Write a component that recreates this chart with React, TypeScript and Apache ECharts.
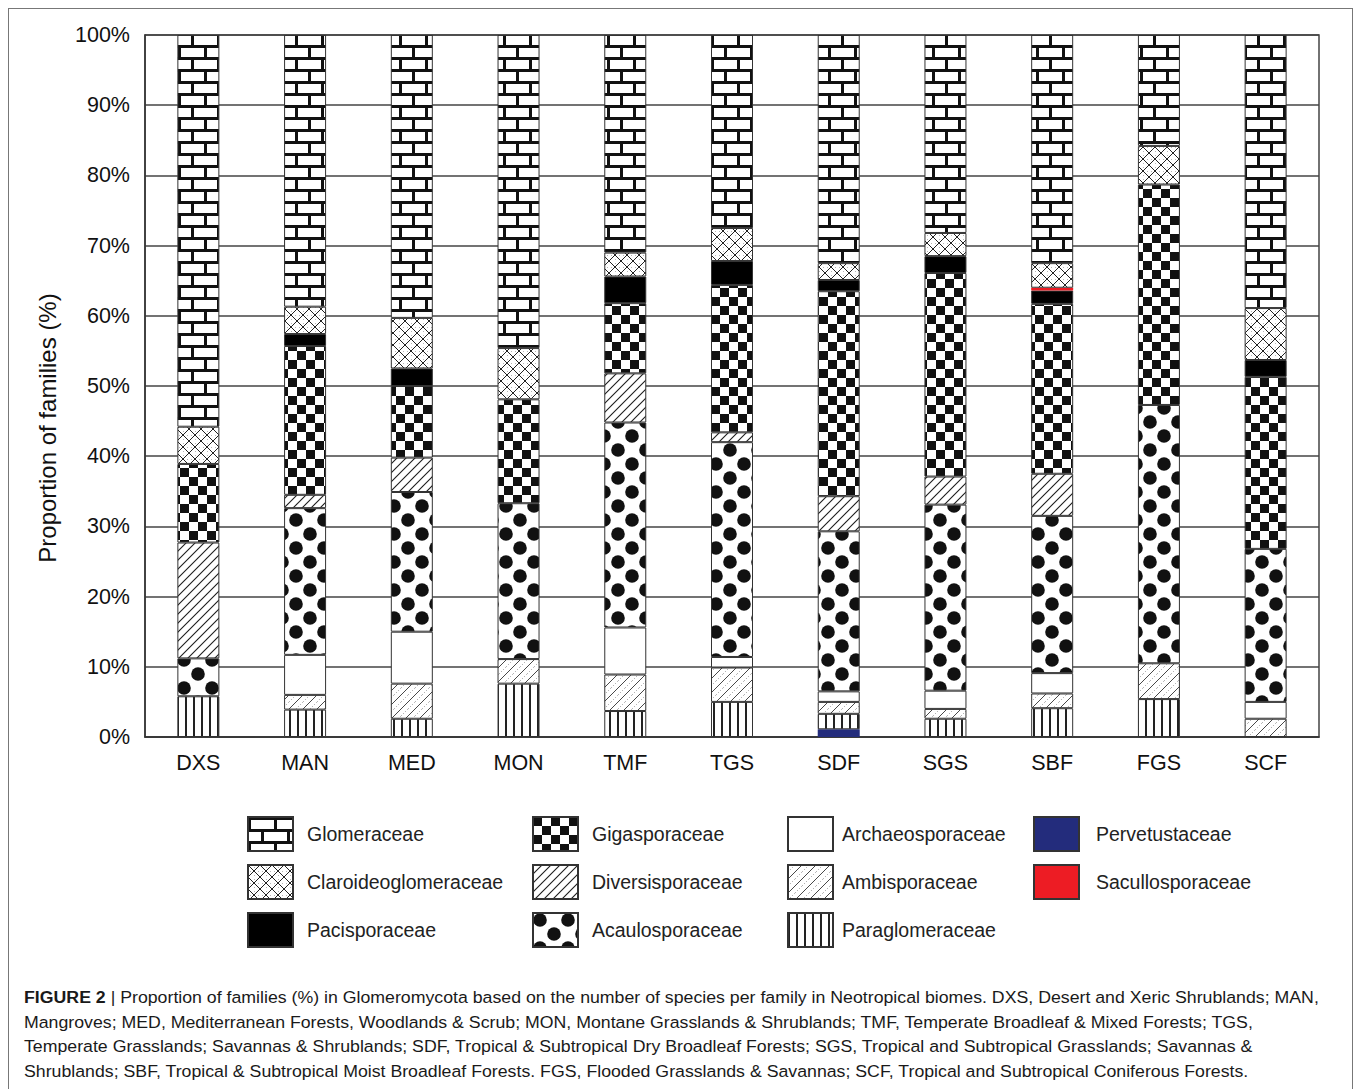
import React, { useEffect, useRef } from 'react';
import * as echarts from 'echarts';

const categories = ['DXS', 'MAN', 'MED', 'MON', 'TMF', 'TGS', 'SDF', 'SGS', 'SBF', 'FGS', 'SCF'];

const pervetustaceae = [0, 0, 0, 0, 0, 0, 1.1, 0, 0, 0, 0];
const paraglomeraceae = [5.8, 3.9, 2.6, 7.6, 3.7, 5.0, 2.2, 2.6, 4.1, 5.4, 0];
const ambisporaceae = [0, 2.1, 5.0, 3.5, 5.2, 4.9, 1.7, 1.4, 2.1, 5.1, 2.6];
const archaeosporaceae = [0, 5.7, 7.4, 0, 6.7, 1.5, 1.5, 2.6, 2.9, 0, 2.4];
const acaulosporaceae = [5.4, 20.9, 19.9, 22.2, 29.2, 30.6, 22.8, 26.5, 22.4, 36.8, 21.8];
const diversisporaceae = [16.5, 1.9, 4.9, 0, 7.0, 1.4, 5.0, 4.0, 6.0, 0, 0];
const gigasporaceae = [11.2, 21.2, 10.2, 14.8, 10.0, 21.0, 29.2, 29.0, 24.2, 31.4, 24.5];
const pacisporaceae = [0, 1.7, 2.5, 0, 3.8, 3.4, 1.6, 2.4, 1.9, 0, 2.4];
const sacullosporaceae = [0, 0, 0, 0, 0, 0, 0, 0, 0.4, 0, 0];
const claroideoglomeraceae = [5.3, 3.9, 7.2, 7.3, 3.4, 4.7, 2.4, 3.3, 3.5, 5.5, 7.4];
const glomeraceae = [55.8, 38.7, 40.3, 44.6, 31.0, 27.5, 32.5, 28.2, 32.5, 15.8, 38.9];

const yTicks = [0, 10, 20, 30, 40, 50, 60, 70, 80, 90, 100];

const legendCol1 = ['Glomeraceae', 'Claroideoglomeraceae', 'Pacisporaceae'];
const legendCol2 = ['Gigasporaceae', 'Diversisporaceae', 'Acaulosporaceae'];
const legendCol3 = ['Archaeosporaceae', 'Ambisporaceae', 'Paraglomeraceae'];
const legendCol4 = ['Pervetustaceae', 'Sacullosporaceae'];

const captionBold = 'FIGURE 2 ';
const captionLines = [
  '| Proportion of families (%) in Glomeromycota based on the number of species per family in Neotropical biomes. DXS, Desert and Xeric Shrublands; MAN,',
  'Mangroves; MED, Mediterranean Forests, Woodlands & Scrub; MON, Montane Grasslands & Shrublands; TMF, Temperate Broadleaf & Mixed Forests; TGS,',
  'Temperate Grasslands; Savannas & Shrublands; SDF, Tropical & Subtropical Dry Broadleaf Forests; SGS, Tropical and Subtropical Grasslands; Savannas &',
  'Shrublands; SBF, Tropical & Subtropical Moist Broadleaf Forests. FGS, Flooded Grasslands & Savannas; SCF, Tropical and Subtropical Coniferous Forests.',
];

const FONT = '"Liberation Sans", Arial, Helvetica, sans-serif';

type Ctx = CanvasRenderingContext2D;

function makeTile(w: number, h: number, draw: (ctx: Ctx) => void) {
  const c = document.createElement('canvas');
  c.width = w;
  c.height = h;
  const ctx = c.getContext('2d') as Ctx;
  ctx.fillStyle = '#ffffff';
  ctx.fillRect(0, 0, w, h);
  ctx.fillStyle = '#111111';
  ctx.strokeStyle = '#111111';
  draw(ctx);
  return { image: c.toDataURL(), repeat: 'repeat', imageWidth: w, imageHeight: h };
}

function line(ctx: Ctx, x1: number, y1: number, x2: number, y2: number) {
  ctx.beginPath();
  ctx.moveTo(x1, y1);
  ctx.lineTo(x2, y2);
  ctx.stroke();
}

function buildPatterns() {
  const brick = makeTile(26, 24, (ctx) => {
    ctx.fillRect(0, 0, 26, 3);
    ctx.fillRect(0, 12, 26, 3);
    ctx.fillRect(0, 3, 3, 9);
    ctx.fillRect(13, 15, 3, 9);
  });
  const checker = makeTile(18, 18, (ctx) => {
    ctx.fillRect(0, 0, 9, 9);
    ctx.fillRect(9, 9, 9, 9);
  });
  const dots = makeTile(28, 28, (ctx) => {
    ctx.beginPath();
    ctx.arc(7, 7, 6.8, 0, Math.PI * 2);
    ctx.fill();
    ctx.beginPath();
    ctx.arc(21, 21, 6.8, 0, Math.PI * 2);
    ctx.fill();
  });
  const cross = makeTile(12, 12, (ctx) => {
    ctx.fillStyle = '#b5b5b5';
    ctx.fillRect(6, 2, 1, 1);
    ctx.fillRect(2, 6, 1, 1);
    ctx.fillRect(10, 6, 1, 1);
    ctx.fillRect(6, 10, 1, 1);
    ctx.strokeStyle = '#222222';
    ctx.lineWidth = 1;
    line(ctx, 0, 0, 12, 12);
    line(ctx, 12, 0, 0, 12);
    line(ctx, -1, 1, 1, -1);
  });
  const diag = makeTile(9, 9, (ctx) => {
    ctx.strokeStyle = '#1a1a1a';
    ctx.lineWidth = 1.1;
    line(ctx, -1, 10, 10, -1);
    line(ctx, -2, 2, 2, -2);
    line(ctx, 7, 11, 11, 7);
  });
  const ambi = makeTile(14, 14, (ctx) => {
    ctx.strokeStyle = '#333333';
    ctx.lineWidth = 0.9;
    line(ctx, -1, 15, 15, -1);
    line(ctx, -2, 2, 2, -2);
    line(ctx, 12, 16, 16, 12);
    ctx.strokeStyle = '#8a8a8a';
    ctx.setLineDash([1, 2]);
    line(ctx, 7, 14, 14, 7);
    line(ctx, 0, 7, 7, 0);
  });
  const vert = makeTile(8, 8, (ctx) => {
    ctx.fillStyle = '#222222';
    ctx.fillRect(0, 0, 2, 8);
  });
  return { brick, checker, dots, cross, diag, ambi, vert };
}

function nz(arr: number[], thin?: boolean) {
  return arr.map((v) => {
    if (v === 0) return '-';
    if (thin) return { value: v, itemStyle: { borderWidth: 0 } };
    return v;
  });
}

export default function App() {
  const ref = useRef<HTMLDivElement>(null);

  useEffect(() => {
    if (!ref.current) return;
    const chart = echarts.init(ref.current, undefined, { renderer: 'svg' });
    const p = buildPatterns();

    const seriesDefs: { name: string; data: number[]; color: any; thin?: boolean }[] = [
      { name: 'Pervetustaceae', data: pervetustaceae, color: '#232c7c', thin: true },
      { name: 'Paraglomeraceae', data: paraglomeraceae, color: p.vert },
      { name: 'Ambisporaceae', data: ambisporaceae, color: p.ambi },
      { name: 'Archaeosporaceae', data: archaeosporaceae, color: '#ffffff' },
      { name: 'Acaulosporaceae', data: acaulosporaceae, color: p.dots },
      { name: 'Diversisporaceae', data: diversisporaceae, color: p.diag },
      { name: 'Gigasporaceae', data: gigasporaceae, color: p.checker },
      { name: 'Pacisporaceae', data: pacisporaceae, color: '#000000' },
      { name: 'Sacullosporaceae', data: sacullosporaceae, color: '#ed1c24', thin: true },
      { name: 'Claroideoglomeraceae', data: claroideoglomeraceae, color: p.cross },
      { name: 'Glomeraceae', data: glomeraceae, color: p.brick },
    ];

    const mc = document.createElement('canvas').getContext('2d') as Ctx;
    const fs = 17;
    mc.font = `bold ${fs}px "Liberation Sans"`;
    const boldW = mc.measureText(captionBold).width;
    mc.font = `${fs}px "Liberation Sans"`;
    const line1W = mc.measureText(captionLines[0]).width;
    const targetW = 1295;
    const s = targetW / (boldW + line1W);
    const capX = 15;
    const capY = [988, 1013, 1037, 1062];

    const captionGraphics: any[] = [
      {
        type: 'text',
        x: capX,
        y: capY[0],
        scaleX: s,
        style: {
          text: captionBold,
          font: `bold ${fs}px ${FONT}`,
          fill: '#1a1a1a',
          verticalAlign: 'middle',
        },
      },
    ];
    captionLines.forEach((t, i) => {
      captionGraphics.push({
        type: 'text',
        x: i === 0 ? capX + boldW * s : capX,
        y: capY[i],
        scaleX: s,
        style: {
          text: t,
          font: `${fs}px ${FONT}`,
          fill: '#1a1a1a',
          verticalAlign: 'middle',
        },
      });
    });

    const legendText = { fontSize: 19.5, color: '#222', fontFamily: FONT };
    const legendCommon = {
      orient: 'vertical',
      itemWidth: 45,
      itemHeight: 34,
      itemGap: 12,
      icon: 'rect',
      selectedMode: false,
      padding: 0,
      top: 807,
    };

    chart.setOption({
      animation: false,
      backgroundColor: '#ffffff',
      grid: {
        left: 136,
        top: 26,
        width: 1174,
        height: 702,
        show: true,
        borderColor: '#444',
        borderWidth: 1.5,
        backgroundColor: 'transparent',
      },
      xAxis: {
        type: 'category',
        data: categories,
        axisLine: { show: true, lineStyle: { color: '#333', width: 1.5 } },
        axisTick: { show: false },
        axisLabel: { fontSize: 21.5, color: '#111', fontFamily: FONT, margin: 15 },
      },
      yAxis: {
        type: 'value',
        min: yTicks[0],
        max: yTicks[yTicks.length - 1],
        interval: 10,
        axisLine: { show: true, lineStyle: { color: '#333', width: 1.5 } },
        axisTick: { show: false },
        axisLabel: { fontSize: 21.5, color: '#111', fontFamily: FONT, margin: 15, formatter: '{value}%' },
        splitLine: { show: true, lineStyle: { color: '#444', width: 1.5 } },
      },
      legend: [
        { ...legendCommon, left: 238, data: legendCol1, textStyle: { ...legendText, padding: [4, 0, 0, 9] } },
        { ...legendCommon, left: 523, data: legendCol2, textStyle: { ...legendText, padding: [4, 0, 0, 9] } },
        { ...legendCommon, left: 778, data: legendCol3, textStyle: { ...legendText, padding: [4, 0, 0, 4] } },
        { ...legendCommon, left: 1024, data: legendCol4, textStyle: { ...legendText, padding: [4, 0, 0, 12] } },
      ],
      graphic: [
        {
          type: 'text',
          x: 38,
          y: 419,
          rotation: Math.PI / 2,
          style: {
            text: 'Proportion of families (%)',
            font: `24px ${FONT}`,
            fill: '#111',
            align: 'center',
            verticalAlign: 'middle',
          },
        },
        ...captionGraphics,
      ],
      series: seriesDefs.map((d) => ({
        name: d.name,
        type: 'bar',
        stack: 'total',
        barWidth: 42,
        data: nz(d.data, d.thin),
        emphasis: { disabled: true },
        itemStyle: { color: d.color, borderColor: '#333', borderWidth: 1 },
      })),
    });

    return () => chart.dispose();
  }, []);

  return (
    <div
      style={{
        position: 'absolute',
        left: 8,
        top: 8,
        width: 1345,
        height: 1081,
        boxSizing: 'border-box',
        border: '1px solid #777',
        borderBottom: 'none',
        background: '#fff',
      }}
    >
      <div ref={ref} style={{ width: 1343, height: 1080 }} />
    </div>
  );
}
